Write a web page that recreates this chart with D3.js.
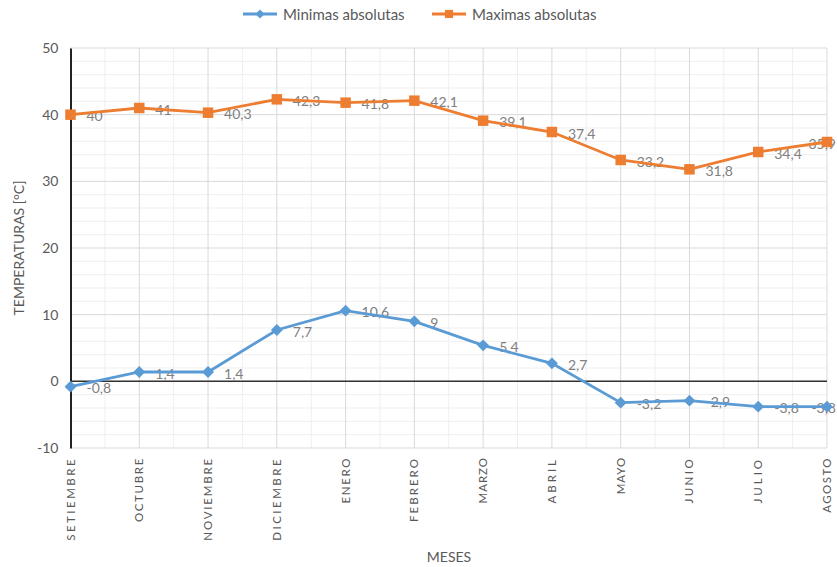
<!DOCTYPE html>
<html>
<head>
<meta charset="utf-8">
<script src="https://cdn.jsdelivr.net/npm/d3@7"></script>
<style>
  body { margin: 0; background: #fff; }
  svg { font-family: Lato, "Open Sans", sans-serif; }
</style>
</head>
<body>
<div class="chart-container"></div>
<script>
// data
const meses = ["SETIEMBRE","OCTUBRE","NOVIEMBRE","DICIEMBRE","ENERO","FEBRERO","MARZO","ABRIL","MAYO","JUNIO","JULIO","AGOSTO"];
const minimas = [-0.8, 1.4, 1.4, 7.7, 10.6, 9, 5.4, 2.7, -3.2, -2.9, -3.8, -3.8];
const maximas = [40, 41, 40.3, 42.3, 41.8, 42.1, 39.1, 37.4, 33.2, 31.8, 34.4, 35.9];
const yTicks = [-10, 0, 10, 20, 30, 40, 50];

const W = 837, H = 567;
const blue = "#5b9bd5", orange = "#ed7d31";

const svg = d3.select(".chart-container")
    .append("svg")
    .attr("width", W)
    .attr("height", H);

// scales
const x = d3.scalePoint()
    .domain(meses)
    .range([70.5, 827]);

const y = d3.scaleLinear()
    .domain([-10, 50])
    .range([448, 48]);

const step = x.step();

// minor grid (every 2 degrees, and halfway between months)
svg.append("g")
    .selectAll("line")
    .data(d3.range(-10, 50, 2).filter(d => d % 10 != 0))
    .join("line")
    .attr("x1", x.range()[0]).attr("x2", x.range()[1])
    .attr("y1", d => y(d)).attr("y2", d => y(d))
    .attr("stroke", "#efefef");

svg.append("g")
    .selectAll("line")
    .data(meses.slice(0, -1))
    .join("line")
    .attr("x1", d => x(d) + step / 2).attr("x2", d => x(d) + step / 2)
    .attr("y1", y(50)).attr("y2", y(-10))
    .attr("stroke", "#efefef");

// major grid
svg.append("g")
    .selectAll("line")
    .data(yTicks)
    .join("line")
    .attr("x1", x.range()[0]).attr("x2", x.range()[1])
    .attr("y1", d => y(d)).attr("y2", d => y(d))
    .attr("stroke", "#d9d9d9");

svg.append("g")
    .selectAll("line")
    .data(meses.slice(1))
    .join("line")
    .attr("x1", d => x(d)).attr("x2", d => x(d))
    .attr("y1", y(50)).attr("y2", y(-10))
    .attr("stroke", "#d9d9d9");

// zero line
svg.append("line")
    .attr("x1", x.range()[0]).attr("x2", x.range()[1])
    .attr("y1", y(0)).attr("y2", y(0))
    .attr("stroke", "#333").attr("stroke-width", 1.5);

// y axis (plain hyphen for negatives, like the original)
const yAxis = svg.append("g")
    .attr("transform", "translate(" + x.range()[0] + ",0)")
    .call(d3.axisLeft(y).tickValues(yTicks).tickSize(0).tickPadding(12).tickFormat(d => String(d)));
yAxis.select(".domain").attr("stroke", "#222").attr("stroke-width", 2);
yAxis.selectAll("text")
    .attr("font-size", "14px")
    .attr("fill", "#595959")
    .attr("font-family", "Lato, sans-serif");

// x labels, rotated and spread out (about 9.3px per letter)
svg.append("g")
    .selectAll("text")
    .data(meses)
    .join("text")
    .attr("transform", d => "translate(" + (x(d) + 4) + ",457) rotate(-90)")
    .attr("text-anchor", "end")
    .attr("font-size", "11.5px")
    .attr("fill", "#595959")
    .text(d => d)
    .each(function(d) {
        const len = this.getComputedTextLength();
        const sp = Math.max(0, (d.length * 9.3 - len) / d.length);
        d3.select(this).attr("letter-spacing", sp + "px");
    });

// axis titles
svg.append("text")
    .attr("transform", "translate(24,248) rotate(-90)")
    .attr("text-anchor", "middle")
    .attr("font-size", "14px")
    .attr("fill", "#595959")
    .text("TEMPERATURAS [°C]");

svg.append("text")
    .attr("x", 449).attr("y", 562)
    .attr("text-anchor", "middle")
    .attr("font-size", "14px")
    .attr("fill", "#595959")
    .text("MESES");

// series
const series = [
    {name: "Minimas absolutas", values: minimas, color: blue, shape: d3.symbolDiamond2, size: 90},
    {name: "Maximas absolutas", values: maximas, color: orange, shape: d3.symbolSquare, size: 110}
];

const fmt = v => String(v).replace(".", ",");
const line = d3.line()
    .x((d, i) => x(meses[i]))
    .y(d => y(d));

series.forEach(function(s) {
    // labels first so line and markers go over them; last one pushed inside
    svg.append("g")
        .selectAll("text")
        .data(s.values)
        .join("text")
        .attr("x", (d, i) => i == meses.length - 1 ? 836 : x(meses[i]) + 16)
        .attr("y", d => y(d) + 1)
        .attr("text-anchor", (d, i) => i == meses.length - 1 ? "end" : "start")
        .attr("dominant-baseline", "central")
        .attr("font-size", "14px")
        .attr("fill", "#808080")
        .text(d => fmt(d));

    svg.append("path")
        .datum(s.values)
        .attr("d", line)
        .attr("fill", "none")
        .attr("stroke", s.color)
        .attr("stroke-width", 2.8);

    svg.append("g")
        .selectAll("path")
        .data(s.values)
        .join("path")
        .attr("transform", (d, i) => "translate(" + x(meses[i]) + "," + y(d) + ")")
        .attr("d", d3.symbol().type(s.shape).size(s.size))
        .attr("fill", s.color);
});

// legend
const legend = svg.append("g")
    .selectAll("g")
    .data(series)
    .join("g")
    .attr("transform", (d, i) => "translate(" + (243 + i * 189) + ",14)");

legend.append("line")
    .attr("x1", 0).attr("x2", 34)
    .attr("stroke", d => d.color)
    .attr("stroke-width", 2.8);

legend.append("path")
    .attr("transform", "translate(17,0)")
    .attr("d", d => d3.symbol().type(d.shape).size(d.size * 0.6)())
    .attr("fill", d => d.color);

legend.append("text")
    .attr("x", 40)
    .attr("dominant-baseline", "central")
    .attr("font-size", "15px")
    .attr("fill", "#595959")
    .text(d => d.name);
</script>
</body>
</html>
